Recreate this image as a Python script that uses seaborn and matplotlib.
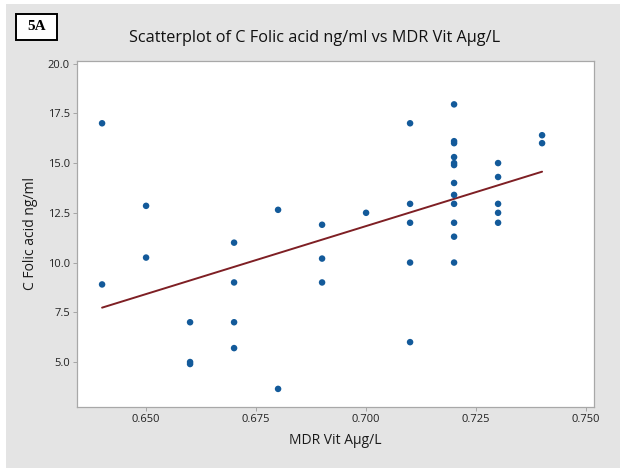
import numpy as np
import pandas as pd
import matplotlib
matplotlib.use("Agg")
import matplotlib.pyplot as plt
from matplotlib.patches import Rectangle
import seaborn as sns

# ---- data ----
mdr_x = [0.64, 0.64,
         0.65, 0.65,
         0.66, 0.66, 0.66,
         0.67, 0.67, 0.67, 0.67,
         0.68, 0.68,
         0.69, 0.69, 0.69,
         0.70,
         0.71, 0.71, 0.71, 0.71, 0.71,
         0.72, 0.72, 0.72, 0.72, 0.72, 0.72, 0.72, 0.72, 0.72, 0.72, 0.72, 0.72,
         0.73, 0.73, 0.73, 0.73, 0.73,
         0.74, 0.74]
folic_y = [17.0, 8.9,
           12.85, 10.25,
           7.0, 5.0, 4.9,
           11.0, 9.0, 7.0, 5.7,
           12.65, 3.65,
           11.9, 10.2, 9.0,
           12.5,
           17.0, 12.95, 12.0, 10.0, 6.0,
           17.95, 16.1, 16.0, 15.3, 15.0, 14.9, 14.0, 13.4, 12.95, 12.0, 11.3, 10.0,
           15.0, 14.3, 12.95, 12.5, 12.0,
           16.4, 16.0]

x_ticks = [0.650, 0.675, 0.700, 0.725, 0.750]
x_ticklabels = ["0.650", "0.675", "0.700", "0.725", "0.750"]
y_ticks = [5.0, 7.5, 10.0, 12.5, 15.0, 17.5, 20.0]
y_ticklabels = ["5.0", "7.5", "10.0", "12.5", "15.0", "17.5", "20.0"]

title = "Scatterplot of C Folic acid ng/ml vs MDR Vit A\u03bcg/L"
xlabel = "MDR Vit A\u03bcg/L"
ylabel = "C Folic acid ng/ml"
panel_label = "5A"

df = pd.DataFrame({"x": mdr_x, "y": folic_y})

sns.set_theme(style="white")
plt.rcParams["font.family"] = ["Open Sans", "DejaVu Sans"]

W, H = 620, 468
fig = plt.figure(figsize=(W / 100, H / 100), dpi=100)
fig.patch.set_facecolor("white")
fig.patches.append(Rectangle((6 / W, 0), 1 - 6 / W, 1 - 4 / H, transform=fig.transFigure,
                             facecolor="#e4e4e4", edgecolor="none", zorder=-10))

ax = fig.add_axes([77 / W, (H - 407) / H, (594 - 77) / W, (407 - 61) / H])
ax.set_facecolor("white")

sns.regplot(data=df, x="x", y="y", ax=ax, ci=None, truncate=True,
            scatter_kws=dict(s=22, color="#135a9a", edgecolor="none", alpha=1, zorder=3),
            line_kws=dict(color="#7e1f24", lw=1.4, zorder=2))

ax.set_xlim(0.6343, 0.7518)
ax.set_ylim(2.74, 20.13)
ax.set_xticks(x_ticks)
ax.set_xticklabels(x_ticklabels)
ax.set_yticks(y_ticks)
ax.set_yticklabels(y_ticklabels)
ax.tick_params(axis="both", which="both", direction="out", length=3, width=0.6,
               color="#9a9a9a", labelsize=8, labelcolor="#222222", pad=2,
               bottom=True, left=True)
for sp in ax.spines.values():
    sp.set_color("#a8a8a8")
    sp.set_linewidth(0.9)

ax.set_xlabel("")
ax.set_ylabel("")
fig.text(335 / W, 1 - 440 / H, xlabel, ha="center", va="center", fontsize=10, color="#1a1a1a")
fig.text(31 / W, 1 - 234 / H, ylabel, ha="center", va="center", rotation=90,
         fontsize=10, color="#1a1a1a")
fig.text(315 / W, 1 - 38 / H, title, ha="center", va="center", fontsize=11.7, color="#111111")

fig.patches.append(Rectangle((16 / W, 1 - 40 / H), 41 / W, 26 / H, transform=fig.transFigure,
                             facecolor="white", edgecolor="black", linewidth=1.4, zorder=5))
fig.text(36.5 / W, 1 - 27 / H, panel_label, ha="center", va="center", fontsize=11,
         fontweight="bold", family=["Liberation Serif", "DejaVu Serif"], color="black",
         zorder=6)

fig.savefig("out.png", dpi=100)
